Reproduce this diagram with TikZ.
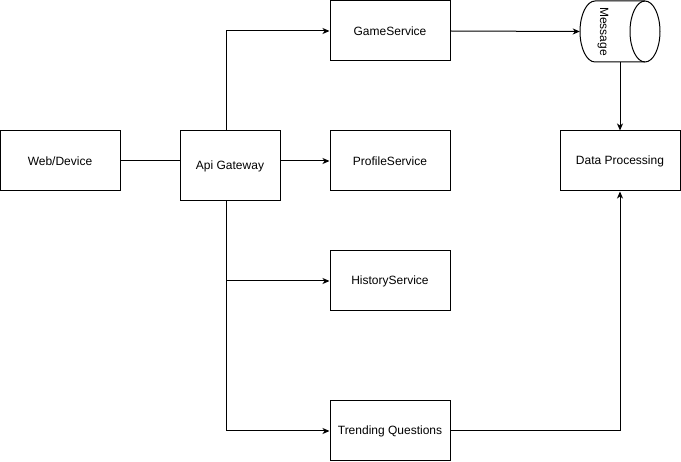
\documentclass[tikz,border=0pt]{standalone}
\usepackage{fontspec}
\usepackage{graphicx}
\setmainfont{Liberation Sans}
\usetikzlibrary{arrows.meta}
\begin{document}
\begin{tikzpicture}[x=1pt,y=-1pt,
  box/.style={draw=black, line width=1pt, fill=white, inner sep=0pt, font=\fontsize{12}{14}\selectfont},
  link/.style={line width=1pt, draw=black},
  arr/.style={link, -{Stealth[length=7pt,width=6pt,inset=2pt]}}]
\useasboundingbox (0,0) rectangle (681,462);
\node[box, minimum width=120pt, minimum height=60pt] (web) at (60,161) {Web/Device};
\node[box, minimum width=100pt, minimum height=70pt] (api) at (230,166) {Api Gateway};
\node[box, minimum width=120pt, minimum height=60pt] (game) at (390,31) {GameService};
\node[box, minimum width=120pt, minimum height=60pt] (profile) at (390,161) {ProfileService};
\node[box, minimum width=120pt, minimum height=60pt] (history) at (390,281) {HistoryService};
\node[box, minimum width=120pt, minimum height=60pt] (trend) at (390,431) {Trending Questions};
\node[box, minimum width=120pt, minimum height=60pt] (data) at (620,161) {Data Processing};
% Message cylinder
\node[inner sep=0pt, minimum width=80pt, minimum height=61pt] (msg) at (620,31.5) {};
\draw[link, fill=white] (595,1) arc[start angle=90, end angle=270, x radius=15pt, y radius=30.5pt]
  -- (645,62) arc[start angle=270, end angle=450, x radius=15pt, y radius=30.5pt] -- cycle;
\draw[link] (645,1) arc[start angle=90, end angle=270, x radius=15pt, y radius=30.5pt];
\node[inner sep=0pt, font=\fontsize{12}{14}\selectfont] (msgtext) at (603,31.5) {\rotatebox{-90}{Message}};
% connectors
\draw[link] (web.east) -- (api.west |- web.east);
\draw[arr] (api.east |- profile.west) -- (profile.west);
\draw[arr] (api.north -| 226,0) |- (game.west);
\draw[arr] (api.south -| 226,0) |- (history.west);
\draw[arr] (api.south -| 226,0) |- (trend.west);
\draw[arr] (game.east) -- (msg.west);
\draw[arr] (msg.south) -- (data.north);
\draw[arr] (trend.east) -| (data.south);
\end{tikzpicture}
\end{document}
